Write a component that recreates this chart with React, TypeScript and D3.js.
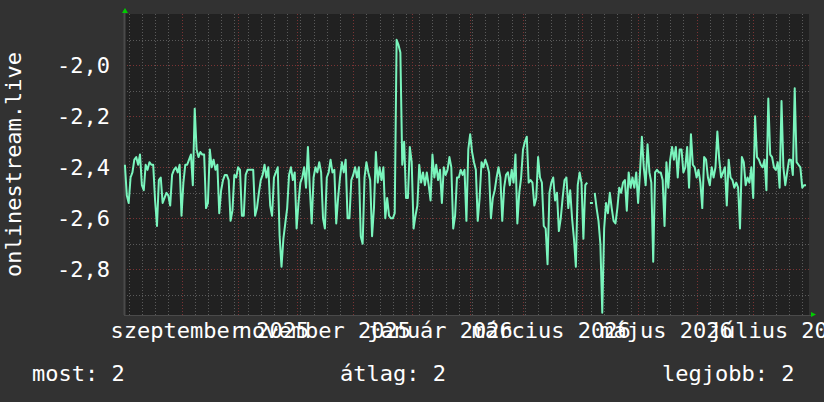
import React from "react";
import * as d3 from "d3";

const W = 824;
const H = 402;

// daily series, starting 2025-08-02
const seriesStart = Date.UTC(2025, 7, 2);
const dailyValues: (number | null)[] = [
  // Aug - mid Oct 2025
  -2.39, -2.51, -2.54, -2.44, -2.42, -2.37, -2.36, -2.39, -2.35, -2.47,
  -2.49, -2.39, -2.41, -2.38, -2.39, -2.39, -2.53, -2.63, -2.45, -2.44,
  -2.54, -2.52, -2.50, -2.51, -2.55, -2.43, -2.41, -2.40, -2.42, -2.39,
  -2.59, -2.46, -2.39, -2.39, -2.37, -2.35, -2.47, -2.17, -2.33, -2.36,
  -2.34, -2.35, -2.35, -2.56, -2.54, -2.33, -2.40, -2.37, -2.41, -2.39,
  -2.58, -2.49, -2.45, -2.43, -2.43, -2.45, -2.61, -2.57, -2.43, -2.44,
  -2.40, -2.41, -2.59, -2.59, -2.43, -2.41, -2.41, -2.41, -2.41, -2.59,
  -2.56, -2.50,
  // mid Oct - late Dec 2025
  -2.45, -2.43, -2.39, -2.44, -2.40, -2.55, -2.59, -2.44, -2.42, -2.40,
  -2.67, -2.79, -2.68, -2.62, -2.56, -2.43, -2.40, -2.45, -2.42, -2.64,
  -2.54, -2.46, -2.44, -2.40, -2.48, -2.32, -2.48, -2.62, -2.44, -2.40,
  -2.42, -2.38, -2.42, -2.60, -2.64, -2.44, -2.42, -2.37, -2.42, -2.41,
  -2.62, -2.52, -2.44, -2.38, -2.42, -2.37, -2.60, -2.60, -2.45, -2.43,
  -2.40, -2.44, -2.40, -2.67, -2.70, -2.44, -2.38, -2.42, -2.45, -2.67,
  -2.56, -2.34, -2.46, -2.40, -2.45, -2.40, -2.60, -2.52, -2.59, -2.60,
  -2.60, -2.58,
  // late Dec 2025 - early Mar 2026
  -1.90, -1.92, -1.95, -2.39, -2.30, -2.52, -2.52, -2.32, -2.38, -2.64,
  -2.59, -2.55, -2.39, -2.46, -2.42, -2.47, -2.42, -2.47, -2.53, -2.35,
  -2.44, -2.39, -2.45, -2.41, -2.54, -2.40, -2.43, -2.41, -2.36, -2.40,
  -2.64, -2.59, -2.44, -2.44, -2.41, -2.43, -2.41, -2.61, -2.33, -2.27,
  -2.34, -2.38, -2.41, -2.61, -2.52, -2.38, -2.40, -2.37, -2.39, -2.42,
  -2.60, -2.52, -2.49, -2.44, -2.40, -2.44, -2.61, -2.48, -2.43, -2.42,
  -2.47, -2.41, -2.46, -2.35, -2.62, -2.50, -2.44, -2.33, -2.30, -2.28,
  -2.46, -2.45,
  // Mar - mid May 2026
  -2.46, -2.55, -2.52, -2.36, -2.44, -2.46, -2.63, -2.64, -2.78, -2.50,
  -2.46, -2.44, -2.53, -2.50, -2.65, -2.60, -2.52, -2.45, -2.44, -2.56,
  -2.49, -2.60, -2.68, -2.79, -2.47, -2.42, -2.46, -2.68, -2.47, -2.46,
  null, -2.54, null, -2.50, -2.56, -2.61, -2.70, -2.97, -2.64, -2.54,
  -2.58, -2.50, -2.56, -2.61, -2.62, -2.56, -2.48, -2.50, -2.46, -2.45,
  -2.57, -2.42, -2.48, -2.44, -2.48, -2.42, -2.54, -2.42, -2.28, -2.40,
  -2.47, -2.31, -2.42, -2.46, -2.77, -2.42, -2.41, -2.42, -2.42, -2.45,
  // mid May - late Jul 2026
  -2.63, -2.38, -2.48, -2.37, -2.32, -2.37, -2.32, -2.44, -2.33, -2.33,
  -2.42, -2.40, -2.32, -2.48, -2.27, -2.39, -2.40, -2.44, -2.41, -2.46,
  -2.56, -2.36, -2.37, -2.44, -2.47, -2.40, -2.44, -2.40, -2.26, -2.37,
  -2.44, -2.42, -2.40, -2.55, -2.37, -2.44, -2.45, -2.48, -2.46, -2.48,
  -2.64, -2.36, -2.38, -2.47, -2.44, -2.46, -2.40, -2.52, -2.20, -2.36,
  -2.37, -2.39, -2.40, -2.37, -2.49, -2.13, -2.35, -2.36, -2.40, -2.41,
  -2.38, -2.48, -2.14, -2.40, -2.47, -2.42, -2.37, -2.37, -2.43, -2.09,
  -2.38, -2.39, -2.40, -2.48, -2.47, -2.47,
];

const yTickValues = [-2.0, -2.2, -2.4, -2.6, -2.8];
const yTickLabels = ["-2,0", "-2,2", "-2,4", "-2,6", "-2,8"];
const xLabelMonths = [
  Date.UTC(2025, 8, 1),
  Date.UTC(2025, 10, 1),
  Date.UTC(2026, 0, 1),
  Date.UTC(2026, 2, 1),
  Date.UTC(2026, 4, 1),
  Date.UTC(2026, 6, 1),
];
const xLabelTexts = [
  "szeptember 2025",
  "november 2025",
  "január 2026",
  "március 2026",
  "május 2026",
  "július 2026",
];
const legendTexts = ["most: 2", "átlag: 2", "legjobb: 2"];
const axisTitle = "onlinestream.live";

const DAY = 86400000;
const PL = 124, PR = 809, PT = 14, PB = 315;
const FONT = "'DejaVu Sans Mono', monospace";

export default function App() {
  const x = d3
    .scaleTime()
    .domain([new Date(Date.UTC(2025, 7, 1, 12, 30)), new Date(Date.UTC(2026, 6, 30, 13, 40))])
    .range([PL, PR]);
  const y = d3.scaleLinear().domain([-2.979, -1.799]).range([PB, PT]);
  const [d0, d1] = x.domain();

  const dateOf = (i: number) => new Date(seriesStart + i * DAY);

  const line = d3
    .line<number | null>()
    .defined((v) => v != null)
    .x((_, i) => x(dateOf(i)))
    .y((v) => y(v as number));

  const isolated = dailyValues
    .map((v, i) => ({ v, i }))
    .filter(
      ({ v, i }) =>
        v != null &&
        (i === 0 || dailyValues[i - 1] == null) &&
        (i === dailyValues.length - 1 || dailyValues[i + 1] == null)
    );

  const minorX = d3.utcMonday.range(d0, d1);
  const majorX = d3.utcMonth.range(d0, d1);
  const gridY = d3.range(-29, -18).map((t) => t / 10);

  const gray = "#5a5a5a";
  const red = "#7a3434";

  return (
    <svg width={W} height={H} style={{ display: "block", position: "absolute", left: 0, top: 0 }}>
      <defs>
        <clipPath id="plotclip">
          <rect x={PL} y={PT} width={PR - PL} height={PB - PT} />
        </clipPath>
      </defs>
      <rect x={0} y={0} width={W} height={H} fill="#323232" />
      <rect x={PL} y={PT} width={PR - PL} height={PB - PT} fill="#212121" />

      {/* grid */}
      {gridY.map((v) => {
        const major = Math.round(v * 10) % 2 === 0;
        return (
          <line
            key={"gy" + v}
            x1={PL}
            x2={PR}
            y1={Math.round(y(v)) + 0.5}
            y2={Math.round(y(v)) + 0.5}
            stroke={major ? red : gray}
            strokeDasharray="1 2"
            strokeWidth={1}
          />
        );
      })}
      {minorX.map((d) => (
        <line
          key={"mx" + +d}
          x1={Math.round(x(d)) + 0.5}
          x2={Math.round(x(d)) + 0.5}
          y1={PT}
          y2={PB}
          stroke={gray}
          strokeDasharray="1 2"
        />
      ))}
      {majorX.map((d) => (
        <line
          key={"Mx" + +d}
          x1={Math.round(x(d)) + 0.5}
          x2={Math.round(x(d)) + 0.5}
          y1={PT}
          y2={PB}
          stroke={red}
          strokeDasharray="1 2"
        />
      ))}

      {/* axes */}
      <line x1={PL + 0.5} x2={PL + 0.5} y1={PT - 4} y2={PB} stroke="#4a4a4a" strokeWidth={2} />
      <line x1={PL} x2={PR + 3} y1={PB + 0.5} y2={PB + 0.5} stroke="#4a4a4a" strokeWidth={1} />
      <path d={`M${PL + 1},8 L${PL - 2},13 L${PL + 4},13 Z`} fill="#00cc00" />
      <path d={`M816,314.5 L811,312 L811,317 Z`} fill="#00cc00" />

      {/* data */}
      <g clipPath="url(#plotclip)">
        <path d={line(dailyValues) || ""} fill="none" stroke="#7af5bd" strokeWidth={2} strokeLinejoin="round" />
        {isolated.map(({ v, i }) => (
          <line
            key={"iso" + i}
            x1={x(dateOf(i)) - 1}
            x2={x(dateOf(i)) + 2}
            y1={y(v as number)}
            y2={y(v as number)}
            stroke="#7af5bd"
            strokeWidth={2}
          />
        ))}
      </g>

      {/* y labels */}
      {yTickValues.map((v, k) => (
        <text
          key={"yl" + v}
          x={110}
          y={y(v) + 8}
          textAnchor="end"
          fill="#ffffff"
          fontFamily={FONT}
          fontSize={22}
        >
          {yTickLabels[k]}
        </text>
      ))}

      {/* x labels */}
      {xLabelMonths.map((m, k) => (
        <text
          key={"xl" + m}
          x={x(new Date(m + 15 * DAY))}
          y={338}
          textAnchor="middle"
          fill="#ffffff"
          fontFamily={FONT}
          fontSize={22}
        >
          {xLabelTexts[k]}
        </text>
      ))}

      {/* axis title */}
      <text
        transform={`translate(21,${(PT + PB) / 2}) rotate(-90)`}
        textAnchor="middle"
        fill="#ffffff"
        fontFamily={FONT}
        fontSize={22}
      >
        {axisTitle}
      </text>

      {/* legend */}
      {legendTexts.map((t, k) => (
        <text
          key={"lg" + k}
          x={[32, 340, 662][k]}
          y={381}
          fill="#ffffff"
          fontFamily={FONT}
          fontSize={22}
        >
          {t}
        </text>
      ))}
    </svg>
  );
}
